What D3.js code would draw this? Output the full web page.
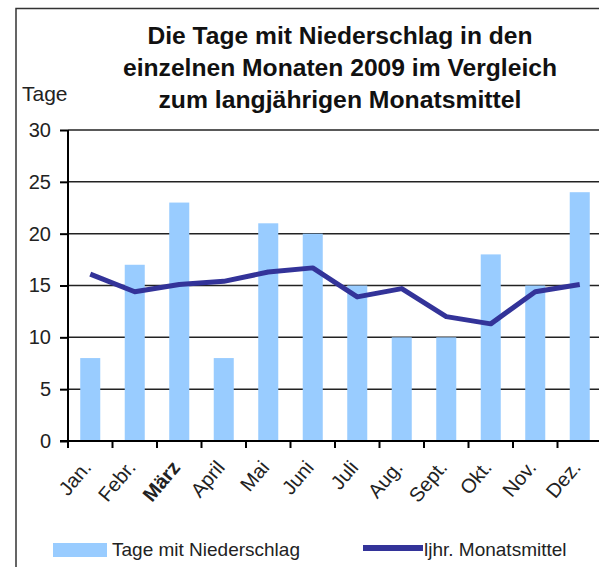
<!DOCTYPE html>
<html>
<head>
<meta charset="utf-8">
<script src="https://cdn.jsdelivr.net/npm/d3@7"></script>
<style>
  body { margin: 0; background: #fff; }
  svg { display: block; font-family: "Liberation Sans", Arial, sans-serif; }
</style>
</head>
<body>
<div class="chart"></div>
<script>
// data
const months = ["Jan.", "Febr.", "März", "April", "Mai", "Juni", "Juli", "Aug.", "Sept.", "Okt.", "Nov.", "Dez."];
const tageNiederschlag = [8, 17, 23, 8, 21, 20, 15, 10, 10, 18, 15, 24];
const monatsmittel = [16.1, 14.4, 15.1, 15.4, 16.3, 16.7, 13.9, 14.7, 12.0, 11.3, 14.4, 15.1];
const yTicks = [0, 5, 10, 15, 20, 25, 30];
const titleLines = ["Die Tage mit Niederschlag in den", "einzelnen Monaten 2009 im Vergleich", "zum langjährigen Monatsmittel"];
const titleWidths = [385, 434, 363];

const W = 599, H = 567;
const margin = ({top: 130, left: 68, bottom: 126});
const plotW = 534, plotH = H - margin.top - margin.bottom;

const svg = d3.select(".chart").append("svg")
    .attr("width", W)
    .attr("height", H);

// frame
svg.append("rect")
    .attr("x", 16).attr("y", 8.5)
    .attr("width", 700).attr("height", 700)
    .attr("fill", "none")
    .attr("stroke", "#333")
    .attr("stroke-width", 1.5);

// title
svg.append("g")
    .attr("font-weight", "bold")
    .attr("font-size", 23)
    .attr("fill", "#111")
  .selectAll("text")
  .data(titleLines)
  .join("text")
    .attr("x", (d, i) => 340 - titleWidths[i] / 2)
    .attr("y", (d, i) => 44 + i * 32)
    .attr("textLength", (d, i) => titleWidths[i])
    .attr("lengthAdjust", "spacingAndGlyphs")
    .text(d => d);

svg.append("text")
    .attr("x", 22).attr("y", 101)
    .attr("font-size", 21)
    .attr("fill", "#222")
    .text("Tage");

const xScale = d3.scaleBand()
    .domain(months)
    .range([0, plotW])
    .paddingInner(0.55)
    .paddingOuter(0.275);

const xBand = d3.scaleBand().domain(months).range([0, plotW]);

const yScale = d3.scaleLinear()
    .domain([0, 30])
    .range([plotH, 0]);

const g = svg.append("g")
    .attr("transform", "translate(" + margin.left + "," + margin.top + ")");

// grid
g.append("g")
    .selectAll("line")
    .data(yTicks.filter(d => d > 0))
    .join("line")
    .attr("x1", 0).attr("x2", W)
    .attr("y1", d => yScale(d)).attr("y2", d => yScale(d))
    .attr("stroke", "#222")
    .attr("stroke-width", 1.5);

// bars
g.append("g")
    .attr("fill", "#99ccff")
  .selectAll("rect")
  .data(tageNiederschlag)
  .join("rect")
    .attr("x", (d, i) => xScale(months[i]))
    .attr("y", d => yScale(d))
    .attr("width", xScale.bandwidth())
    .attr("height", d => plotH - yScale(d));

// y axis
const yAxis = d3.axisLeft(yScale).tickValues(yTicks).tickSize(8).tickPadding(9);
g.append("g")
    .call(yAxis)
    .call(a => a.selectAll("text").attr("font-size", 20).attr("fill", "#222").attr("font-family", null))
    .call(a => a.selectAll("line,path").attr("stroke", "#000").attr("stroke-width", 2))
    .call(a => a.select(".domain").attr("d", "M0," + (plotH) + "V0"));

// x axis with ticks at category boundaries
const xAxisG = g.append("g")
    .attr("transform", "translate(0," + plotH + ")");
xAxisG.append("line")
    .attr("x1", -8).attr("x2", W)
    .attr("stroke", "#000").attr("stroke-width", 2);
xAxisG.selectAll(".tick")
    .data(d3.range(months.length + 1))
    .join("line")
    .attr("class", "tick")
    .attr("x1", i => i * xBand.step()).attr("x2", i => i * xBand.step())
    .attr("y1", 0).attr("y2", 7)
    .attr("stroke", "#000").attr("stroke-width", 2);
xAxisG.selectAll(".lbl")
    .data(months)
    .join("text")
    .attr("class", "lbl")
    .attr("transform", d => "translate(" + (xBand(d) + xBand.bandwidth() / 2 + 2) + ",27) rotate(-50)")
    .attr("text-anchor", "end")
    .attr("font-size", 20)
    .attr("font-weight", d => d === "März" ? "bold" : null)
    .attr("fill", "#222")
    .text(d => d);

// line
const line = d3.line()
    .x((d, i) => xBand(months[i]) + xBand.bandwidth() / 2)
    .y(d => yScale(d));
g.append("path")
    .datum(monatsmittel)
    .attr("fill", "none")
    .attr("stroke", "#333399")
    .attr("stroke-width", 5)
    .attr("stroke-linejoin", "round")
    .attr("d", line);

// legend
const legend = svg.append("g").attr("font-size", 19).attr("fill", "#222");
legend.append("rect")
    .attr("x", 53).attr("y", 543).attr("width", 54).attr("height", 14)
    .attr("fill", "#99ccff");
legend.append("text").attr("x", 112).attr("y", 556).text("Tage mit Niederschlag");
legend.append("line")
    .attr("x1", 363).attr("x2", 423).attr("y1", 548).attr("y2", 548)
    .attr("stroke", "#333399").attr("stroke-width", 6);
legend.append("text").attr("x", 424).attr("y", 556).text("ljhr. Monatsmittel");
</script>
</body>
</html>
